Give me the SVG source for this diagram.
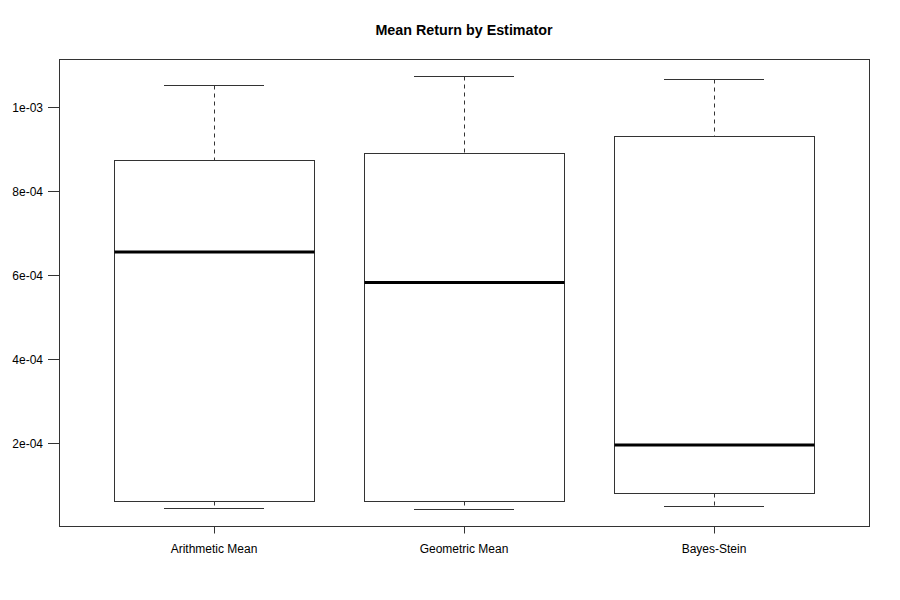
<svg xmlns="http://www.w3.org/2000/svg" width="900" height="600" viewBox="0 0 900 600">
<style>
  .ln{stroke:#333;stroke-width:1;fill:none}
  .box{stroke:#333;stroke-width:1;fill:#fff}
  .med{stroke:#000;stroke-width:3}
  .wh{stroke:#333;stroke-width:1;stroke-dasharray:4 4}
  .lbl{font-family:"Liberation Sans",Arial,sans-serif;font-size:12px;fill:#000}
  .title{font-family:"Liberation Sans",Arial,sans-serif;font-size:14.3px;font-weight:bold;fill:#000}
</style>
<rect x="0" y="0" width="900" height="600" fill="#fff"/>
<text class="title" x="464" y="35" text-anchor="middle">Mean Return by Estimator</text>
<g id="box-arithmetic">
  <line class="wh" x1="214.5" y1="85.5" x2="214.5" y2="160.5"/>
  <line class="wh" x1="214.5" y1="501.5" x2="214.5" y2="508.5"/>
  <line class="ln" x1="164" y1="85.5" x2="264" y2="85.5"/>
  <line class="ln" x1="164" y1="508.5" x2="264" y2="508.5"/>
  <rect class="box" x="114.5" y="160.5" width="200" height="341"/>
  <line class="med" x1="114.5" y1="252" x2="314.5" y2="252"/>
</g>
<g id="box-geometric">
  <line class="wh" x1="464.5" y1="76.5" x2="464.5" y2="153.5"/>
  <line class="wh" x1="464.5" y1="501.5" x2="464.5" y2="509.5"/>
  <line class="ln" x1="414" y1="76.5" x2="514" y2="76.5"/>
  <line class="ln" x1="414" y1="509.5" x2="514" y2="509.5"/>
  <rect class="box" x="364.5" y="153.5" width="200" height="348"/>
  <line class="med" x1="364.5" y1="282.5" x2="564.5" y2="282.5"/>
</g>
<g id="box-bayes">
  <line class="wh" x1="714.5" y1="79.5" x2="714.5" y2="136.5"/>
  <line class="wh" x1="714.5" y1="493.5" x2="714.5" y2="506.5"/>
  <line class="ln" x1="664" y1="79.5" x2="764" y2="79.5"/>
  <line class="ln" x1="664" y1="506.5" x2="764" y2="506.5"/>
  <rect class="box" x="614.5" y="136.5" width="200" height="357"/>
  <line class="med" x1="614.5" y1="445" x2="814.5" y2="445"/>
</g>
<g id="axes">
  <rect class="ln" x="59.5" y="59.5" width="810" height="467"/>
  <line class="ln" x1="48" y1="107.5" x2="59.5" y2="107.5"/>
  <line class="ln" x1="48" y1="191.5" x2="59.5" y2="191.5"/>
  <line class="ln" x1="48" y1="275.5" x2="59.5" y2="275.5"/>
  <line class="ln" x1="48" y1="359.5" x2="59.5" y2="359.5"/>
  <line class="ln" x1="48" y1="443.5" x2="59.5" y2="443.5"/>
  <text class="lbl" x="43" y="112" text-anchor="end">1e-03</text>
  <text class="lbl" x="43" y="196" text-anchor="end">8e-04</text>
  <text class="lbl" x="43" y="280" text-anchor="end">6e-04</text>
  <text class="lbl" x="43" y="364" text-anchor="end">4e-04</text>
  <text class="lbl" x="43" y="448" text-anchor="end">2e-04</text>
  <line class="ln" x1="214.5" y1="526.5" x2="214.5" y2="533.5"/>
  <line class="ln" x1="464.5" y1="526.5" x2="464.5" y2="533.5"/>
  <line class="ln" x1="714.5" y1="526.5" x2="714.5" y2="533.5"/>
  <text class="lbl" x="214" y="553" text-anchor="middle">Arithmetic Mean</text>
  <text class="lbl" x="464" y="553" text-anchor="middle">Geometric Mean</text>
  <text class="lbl" x="714" y="553" text-anchor="middle">Bayes-Stein</text>
</g>
</svg>
